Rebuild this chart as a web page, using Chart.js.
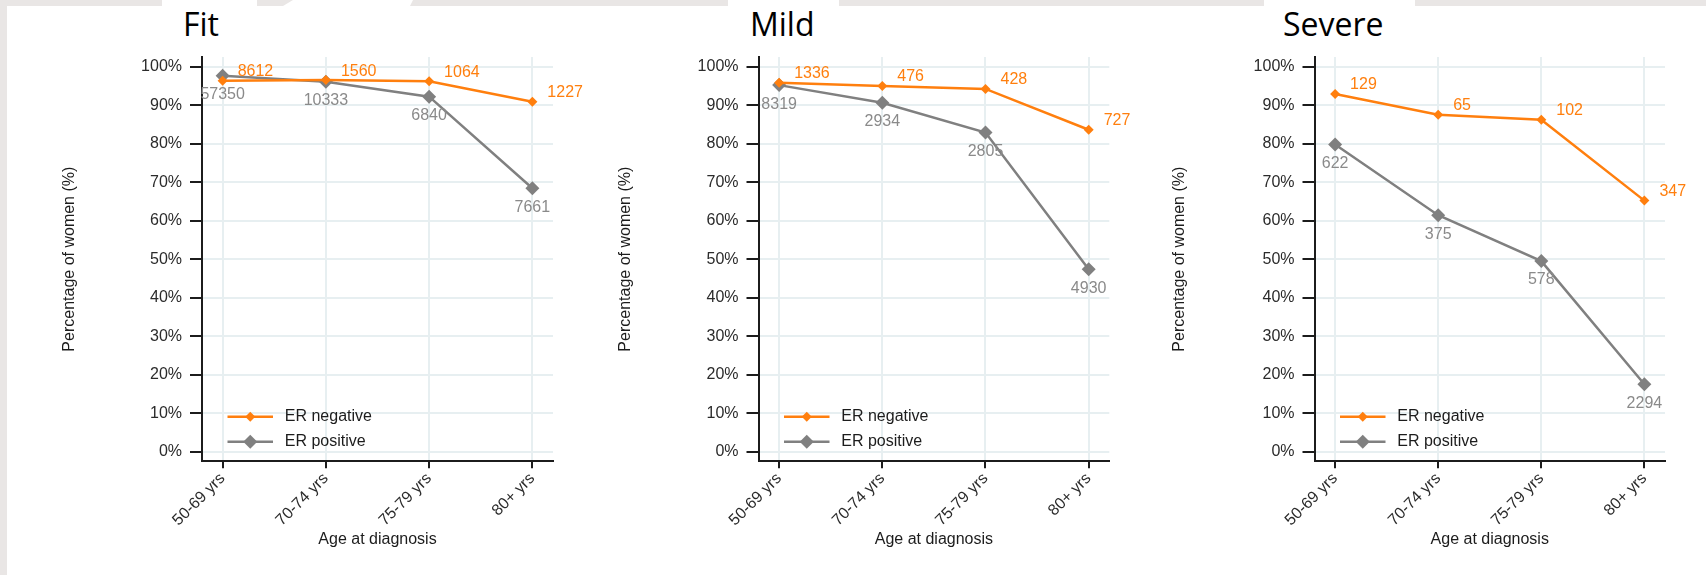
<!DOCTYPE html>
<html>
<head>
<meta charset="utf-8">
<script src="https://cdn.jsdelivr.net/npm/chart.js@4.4.1/dist/chart.umd.min.js"></script>
<style>
  html, body { margin: 0; padding: 0; background: #fff; }
  #page { position: relative; width: 1706px; height: 575px; overflow: hidden; background: #fff; }
  .band { position: absolute; background: #e9e6e5; }
  .gap { position: absolute; background: #fff; top: 0; height: 6px; }
  .panel-title { position: absolute; top: 8px; font-family: "Open Sans", Lato, sans-serif; font-weight: 400; font-size: 32px; line-height: 32px; color: #000; white-space: nowrap; }
  canvas { position: absolute; top: 0; }
</style>
</head>
<body>
<div id="page">
  <div class="band" style="left:0;top:0;width:1706px;height:6px"></div>
  <div class="band" style="left:0;top:0;width:7px;height:575px"></div>
  <div class="gap" style="left:162px;width:95px"></div>
  <div class="gap" style="left:283px;width:131px;clip-path:polygon(10px 0,130px 0,127px 6px,0 6px)"></div>
  <div class="gap" style="left:728px;width:111px"></div>
  <div class="gap" style="left:1264px;width:151px"></div>
  <div class="panel-title" style="left:183px">Fit</div>
  <div class="panel-title" style="left:750px">Mild</div>
  <div class="panel-title" style="left:1283px">Severe</div>
</div>
<script>
// Age groups on the x axis and the percentage ticks on the y axis
const categories = ['50-69 yrs', '70-74 yrs', '75-79 yrs', '80+ yrs'];
const yTickValues = [0, 10, 20, 30, 40, 50, 60, 70, 80, 90, 100];
const seriesNames = ['ER negative', 'ER positive'];

// Fit: percentage of women and number of women per age group
const fitNegative = [96.3, 96.5, 96.2, 90.9];
const fitPositive = [97.6, 96.1, 92.2, 68.4];
const fitNegativeCounts = [8612, 1560, 1064, 1227];
const fitPositiveCounts = [57350, 10333, 6840, 7661];

// Mild
const mildNegative = [95.8, 95.0, 94.2, 83.6];
const mildPositive = [95.2, 90.6, 82.9, 47.4];
const mildNegativeCounts = [1336, 476, 428, 727];
const mildPositiveCounts = [8319, 2934, 2805, 4930];

// Severe
const severeNegative = [92.9, 87.5, 86.2, 65.2];
const severePositive = [79.8, 61.4, 49.5, 17.5];
const severeNegativeCounts = [129, 65, 102, 347];
const severePositiveCounts = [622, 375, 578, 2294];

const FONT = '"Liberation Sans", Arial, Helvetica, sans-serif';
const ORANGE = '#ff7f0e';
const GRAY = '#808080';
const GRID = '#e7eff1';
const INK = '#1c1c1c';

Chart.defaults.font.family = FONT;

// Value labels: counts to the upper right of orange points, below grey points
const pointLabels = {
  id: 'pointLabels',
  afterDatasetsDraw(chart) {
    const ctx = chart.ctx;
    ctx.save();
    ctx.font = '16px ' + FONT;
    chart.data.datasets.forEach((ds, di) => {
      const meta = chart.getDatasetMeta(di);
      meta.data.forEach((pt, i) => {
        const txt = String(ds.counts[i]);
        ctx.fillStyle = ds.labelColor;
        ctx.textBaseline = 'middle';
        if (ds.labelSide === 'right') {
          ctx.textAlign = 'left';
          ctx.fillText(txt, pt.x + 15, pt.y - 9);
        } else {
          ctx.textAlign = 'center';
          ctx.fillText(txt, pt.x, pt.y + 19);
        }
      });
    });
    ctx.restore();
  }
};

// Legend drawn inside the plot area, bottom left
const insideLegend = {
  id: 'insideLegend',
  afterDraw(chart) {
    const ctx = chart.ctx;
    const area = chart.chartArea;
    const x0 = area.left + 25.5;
    const rows = [area.bottom - 44.6, area.bottom - 19.6];
    ctx.save();
    ctx.font = '16px ' + FONT;
    chart.data.datasets.forEach((ds, di) => {
      const y = rows[di];
      ctx.strokeStyle = ds.borderColor;
      ctx.lineWidth = ds.borderWidth;
      ctx.beginPath();
      ctx.moveTo(x0, y);
      ctx.lineTo(x0 + 45.5, y);
      ctx.stroke();
      const r = ds.pointRadius;
      const cx = x0 + 22.75;
      ctx.fillStyle = ds.pointBackgroundColor;
      ctx.beginPath();
      ctx.moveTo(cx, y - r);
      ctx.lineTo(cx + r, y);
      ctx.lineTo(cx, y + r);
      ctx.lineTo(cx - r, y);
      ctx.closePath();
      ctx.fill();
      ctx.fillStyle = INK;
      ctx.textAlign = 'left';
      ctx.textBaseline = 'middle';
      ctx.fillText(ds.label, x0 + 57.3, y);
    });
    ctx.restore();
  }
};

function toPoints(values) {
  return values.map((v, i) => ({ x: i, y: v }));
}

function makePanel(cfg) {
  const canvas = document.createElement('canvas');
  canvas.width = cfg.width;
  canvas.height = 575;
  canvas.style.left = cfg.left + 'px';
  canvas.style.width = cfg.width + 'px';
  canvas.style.height = '575px';
  document.getElementById('page').appendChild(canvas);

  new Chart(canvas, {
    type: 'line',
    data: {
      datasets: [
        {
          label: seriesNames[0],
          data: toPoints(cfg.neg),
          counts: cfg.negN,
          labelSide: 'right',
          labelColor: ORANGE,
          borderColor: ORANGE,
          backgroundColor: ORANGE,
          pointBackgroundColor: ORANGE,
          borderWidth: 2.5,
          pointStyle: 'rectRot',
          pointRadius: 5,
          pointBorderWidth: 0,
          tension: 0
        },
        {
          label: seriesNames[1],
          data: toPoints(cfg.pos),
          counts: cfg.posN,
          labelSide: 'below',
          labelColor: '#8a8a8a',
          borderColor: GRAY,
          backgroundColor: GRAY,
          pointBackgroundColor: GRAY,
          borderWidth: 2.5,
          pointStyle: 'rectRot',
          pointRadius: 7,
          pointBorderWidth: 0,
          tension: 0
        }
      ]
    },
    options: {
      responsive: false,
      animation: false,
      devicePixelRatio: 1,
      layout: { padding: { top: 57, left: 0, right: cfg.padRight, bottom: 0 } },
      plugins: { legend: { display: false }, tooltip: { enabled: false } },
      scales: {
        x: {
          type: 'linear',
          min: -0.2,
          max: 3.2,
          afterBuildTicks(scale) {
            scale.ticks = categories.map((c, i) => ({ value: i }));
          },
          afterFit(scale) {
            scale.height = 113.7;
            scale.paddingLeft = 0;
            scale.paddingRight = 0;
          },
          ticks: {
            autoSkip: false,
            minRotation: 45,
            maxRotation: 45,
            padding: 1,
            color: '#2b2b2b',
            font: { size: 16 },
            callback: (v) => categories[v]
          },
          grid: { color: GRID, lineWidth: 2, tickColor: INK, tickLength: 7, tickWidth: 2 },
          border: { display: true, color: INK, width: 2 },
          title: {
            display: true,
            text: 'Age at diagnosis',
            color: INK,
            font: { size: 16 },
            padding: { top: 4, bottom: 26 }
          }
        },
        y: {
          type: 'linear',
          min: -2.5,
          max: 102.5,
          afterBuildTicks(scale) {
            scale.ticks = yTickValues.map((v) => ({ value: v }));
          },
          afterFit(scale) {
            scale.width = cfg.axisX - cfg.left;
            scale.paddingTop = 0;
            scale.paddingBottom = 0;
          },
          ticks: {
            padding: 8,
            color: '#2b2b2b',
            font: { size: 16 },
            callback: (v) => v + '%'
          },
          grid: { color: GRID, lineWidth: 2, tickColor: INK, tickLength: 12, tickWidth: 2 },
          border: { display: true, color: INK, width: 2 },
          title: {
            display: true,
            text: 'Percentage of women (%)',
            color: INK,
            font: { size: 16 },
            padding: { top: cfg.titleX - cfg.left - 9.6, bottom: 0 }
          }
        }
      }
    },
    plugins: [pointLabels, insideLegend]
  });
}

makePanel({ left: 0, width: 600, axisX: 202, titleX: 70, padRight: 47,
  neg: fitNegative, pos: fitPositive, negN: fitNegativeCounts, posN: fitPositiveCounts });
makePanel({ left: 560, width: 570, axisX: 758.5, titleX: 626, padRight: 20.7,
  neg: mildNegative, pos: mildPositive, negN: mildNegativeCounts, posN: mildPositiveCounts });
makePanel({ left: 1120, width: 586, axisX: 1314.5, titleX: 1180, padRight: 41,
  neg: severeNegative, pos: severePositive, negN: severeNegativeCounts, posN: severePositiveCounts });
</script>
</body>
</html>
